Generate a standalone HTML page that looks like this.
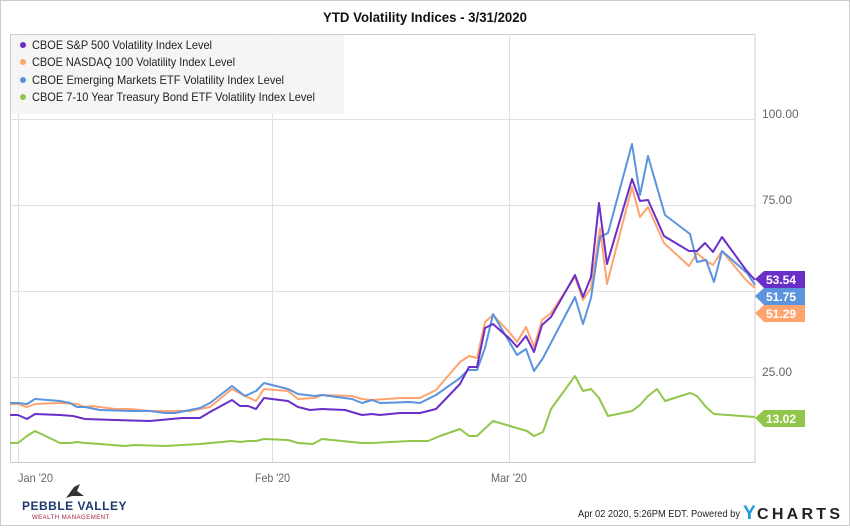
<!DOCTYPE html>
<html><head><meta charset="utf-8"><style>
body{margin:0;background:#fff;font-family:"Liberation Sans",sans-serif}
</style></head><body>
<svg width="850" height="526" viewBox="0 0 850 526" xmlns="http://www.w3.org/2000/svg" font-family="Liberation Sans, sans-serif">
<rect x="0.5" y="0.5" width="849" height="525" fill="#fff" stroke="#ccc"/>
<text x="323" y="22" font-size="14" font-weight="bold" fill="#111" textLength="204" lengthAdjust="spacingAndGlyphs">YTD Volatility Indices - 3/31/2020</text>
<rect x="10.5" y="34.5" width="744.5" height="428" fill="none" stroke="#ccc"/>
<g stroke="#e0e0e0" stroke-width="1">
<line x1="10" y1="119.5" x2="755" y2="119.5"/><line x1="10" y1="205.5" x2="755" y2="205.5"/>
<line x1="10" y1="291.5" x2="755" y2="291.5"/><line x1="10" y1="377.5" x2="755" y2="377.5"/>
<line x1="18.5" y1="34" x2="18.5" y2="462"/><line x1="272.5" y1="34" x2="272.5" y2="462"/><line x1="509.5" y1="34" x2="509.5" y2="462"/>
</g>
<rect x="11" y="35" width="333" height="79" fill="#f3f3f3" opacity="0.85"/>
<g font-size="12" fill="#222" lengthAdjust="spacingAndGlyphs">
<circle cx="23" cy="45" r="3" fill="#6a2fc9"/><text x="32" y="49" textLength="180" lengthAdjust="spacingAndGlyphs">CBOE S&amp;P 500 Volatility Index Level</text>
<circle cx="23" cy="62" r="3" fill="#ffa46e"/><text x="32" y="66" textLength="203" lengthAdjust="spacingAndGlyphs">CBOE NASDAQ 100 Volatility Index Level</text>
<circle cx="23" cy="80" r="3" fill="#5b93dc"/><text x="32" y="84" textLength="252" lengthAdjust="spacingAndGlyphs">CBOE Emerging Markets ETF Volatility Index Level</text>
<circle cx="23" cy="97" r="3" fill="#92c64a"/><text x="32" y="101" textLength="283" lengthAdjust="spacingAndGlyphs">CBOE 7-10 Year Treasury Bond ETF Volatility Index Level</text>
</g>
<g fill="none" stroke-width="2" stroke-linejoin="round">
<polyline stroke="#92c64a" points="10,443 18,443 27,436 35,431 60,443 70,443 77,442 85,443 100,444 125,446 135,445 165,446 200,444 232,441 240,442 248,441 256,441 264,439 288,440 298,443 313,444 322,439 362,443 372,443 410,441 428,441 440,436 460,429 469,436 477,436 493,421 527,431 534,436 543,432 551,409 575,376 583,391 591,389 599,398 608,416 632,411 640,405 648,396 657,389 665,401 690,393 697,396 706,407 714,414 755,417"/>
<polyline stroke="#ffa46e" points="10,404 18,404 27,407 35,404 60,403 77,404 85,407 92,406 115,409 130,409 150,411 190,411 210,407 232,389 245,396 256,401 264,389 288,391 298,399 315,398 322,395 352,396 362,399 372,400 400,398 420,398 436,390 460,362 469,356 477,358 485,322 493,315 510,333 517,342 526,327 534,347 542,320 551,313 575,277 583,300 591,288 600,228 607,284 632,187 640,217 648,207 664,243 689,266 697,253 705,260 713,265 722,251 746,280 755,288"/>
<polyline stroke="#5b93dc" points="10,403 18,403 27,404 35,399 60,401 70,403 77,407 85,407 100,410 130,411 150,411 165,413 175,413 190,410 200,408 210,403 232,386 245,396 256,391 264,383 288,389 298,394 315,396 322,395 352,399 362,403 372,400 380,403 410,402 420,403 436,395 460,378 468,370 477,370 485,348 493,314 517,355 526,349 534,371 543,358 575,297 583,324 591,298 600,237 608,233 632,144 640,195 648,156 665,215 690,234 697,262 706,260 714,282 722,251 747,273 755,285"/>
<polyline stroke="#6a2fc9" points="10,415 18,415 27,419 35,414 60,415 73,416 85,419 115,420 150,421 182,418 200,418 210,412 232,400 240,406 248,406 256,409 264,398 288,401 298,407 310,410 322,409 345,410 362,415 372,414 380,415 400,413 420,413 436,409 460,384 469,367 477,367 485,328 493,324 510,339 517,347 526,336 534,352 542,325 551,317 575,275 583,297 591,277 599,203 607,264 632,179 640,201 648,200 664,236 689,251 697,251 705,243 713,252 722,237 746,270 755,280"/>
</g>
<g font-size="12" fill="#666">
<text x="762" y="118">100.00</text><text x="762" y="204">75.00</text><text x="762" y="376">25.00</text>
<text x="18" y="482" textLength="35" lengthAdjust="spacingAndGlyphs">Jan '20</text><text x="255" y="482" textLength="35" lengthAdjust="spacingAndGlyphs">Feb '20</text><text x="491" y="482" textLength="36" lengthAdjust="spacingAndGlyphs">Mar '20</text>
</g>
<g font-size="12" font-weight="bold" fill="#fff">
<polygon points="755,313 764,305 805,305 805,322 764,322" fill="#ffa46e"/><text x="766" y="318">51.29</text>
<polygon points="755,296 764,288 805,288 805,305 764,305" fill="#5b93dc"/><text x="766" y="301">51.75</text>
<polygon points="755,279 764,271 805,271 805,288 764,288" fill="#6a2fc9"/><text x="766" y="284">53.54</text>
<polygon points="755,418 764,410 805,410 805,427 764,427" fill="#92c64a"/><text x="766" y="423">13.02</text>
</g>
<path d="M66,498 L74,487 L80,484 L77,491 L84,496 L72,496 Z" fill="#333"/>
<text x="22" y="510" font-size="12" font-weight="bold" fill="#1d3a6e" letter-spacing="0.5">PEBBLE VALLEY</text>
<text x="32" y="519" font-size="6" fill="#a0203a" letter-spacing="0.5">WEALTH MANAGEMENT</text>
<text x="578" y="517" font-size="10.5" fill="#222" textLength="162" lengthAdjust="spacingAndGlyphs">Apr 02 2020, 5:26PM EDT.  Powered by</text>
<text x="743" y="519" font-size="19" font-weight="bold" fill="#1a9ee0">Y</text>
<text x="757" y="519" font-size="16" font-weight="bold" fill="#222" textLength="83" lengthAdjust="spacing">CHARTS</text>
</svg>
</body></html>
